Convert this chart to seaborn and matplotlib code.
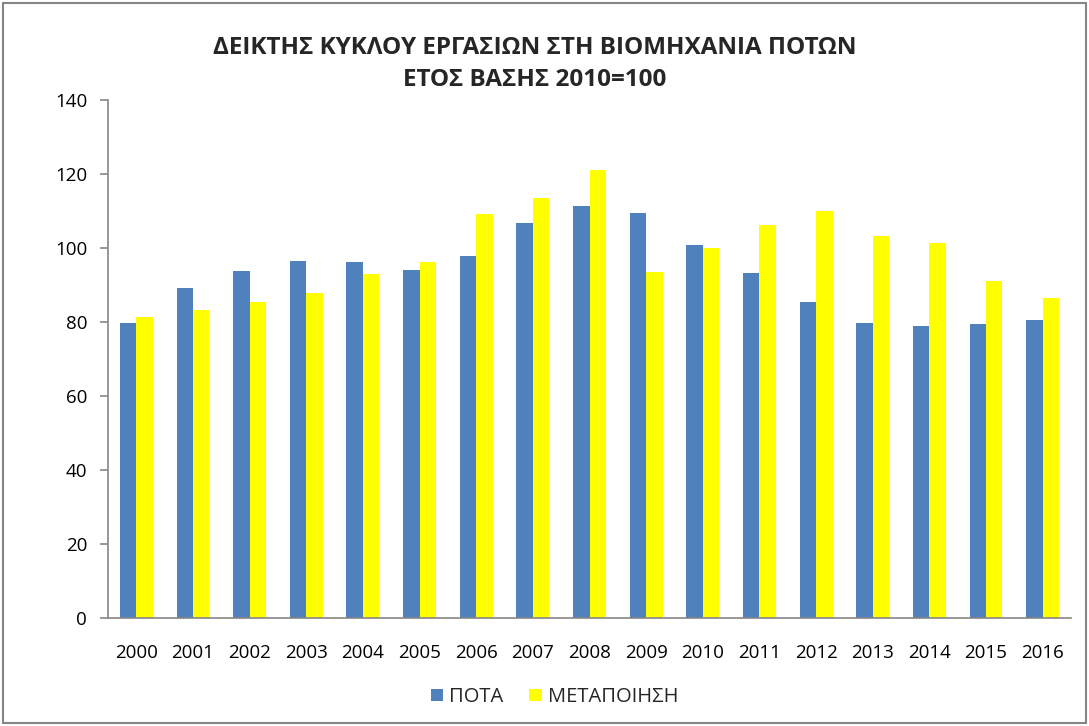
import matplotlib
matplotlib.use("Agg")
import matplotlib.pyplot as plt
import seaborn as sns
import pandas as pd
from matplotlib.patches import Rectangle

years = [str(y) for y in range(2000, 2017)]
pota = [79.7, 89.1, 93.8, 96.5, 96.1, 94.1, 97.9, 106.8, 111.4, 109.4,
        100.8, 93.2, 85.3, 79.7, 78.8, 79.5, 80.5]
metapoiisi = [81.4, 83.2, 85.5, 87.8, 92.9, 96.1, 109.1, 113.5, 121.1, 93.5,
              100.0, 106.1, 109.9, 103.2, 101.4, 91.1, 86.5]
series_names = ["ΠΟΤΑ", "ΜΕΤΑΠΟΙΗΣΗ"]
colors = ["#4F81BD", "#FFFF00"]
title = "ΔΕΙΚΤΗΣ ΚΥΚΛΟΥ ΕΡΓΑΣΙΩΝ ΣΤΗ ΒΙΟΜΗΧΑΝΙΑ ΠΟΤΩΝ\nΕΤΟΣ ΒΑΣΗΣ 2010=100"

df = pd.DataFrame({
    "year": years * 2,
    "value": pota + metapoiisi,
    "series": [series_names[0]] * len(years) + [series_names[1]] * len(years),
})

sns.set_theme(style="white")
plt.rcParams["font.family"] = ["Open Sans", "DejaVu Sans"]

fig = plt.figure(figsize=(10.89, 7.26), dpi=100)
ax = fig.add_axes([108 / 1089, 1 - 618 / 726, (1071 - 108) / 1089, (618 - 100) / 726])

sns.barplot(data=df, x="year", y="value", hue="series", palette=colors,
            width=0.58, saturation=1, linewidth=0, ax=ax, legend=True)

ax.set_ylim(0, 140)
ax.set_yticks(range(0, 141, 20))
ax.set_xlim(-0.5, len(years) - 0.5)
ax.set_xlabel("")
ax.set_ylabel("")
for s in ["top", "right"]:
    ax.spines[s].set_visible(False)
for s in ["left", "bottom"]:
    ax.spines[s].set_color("#868686")
    ax.spines[s].set_linewidth(1.2)
ax.tick_params(axis="y", which="both", left=True, length=6, width=1.2, color="#868686",
               labelsize=13.5, labelcolor="#000000", pad=9)
ax.tick_params(axis="x", bottom=False, labelsize=13.5, labelcolor="#000000", pad=13)

fig.text(0.5 - 10 / 1089, 1 - 64 / 726, title, ha="center", va="center", fontsize=17.5,
         fontweight="bold", linespacing=1.45)

handles, labels = ax.get_legend_handles_labels()
ax.legend_.remove()
fig.legend(handles, labels, loc="center", bbox_to_anchor=(0.5 + 10 / 1089, 1 - 697 / 726),
           ncol=2, frameon=False, fontsize=14.5, handlelength=0.6, handleheight=0.6,
           columnspacing=1.3, handletextpad=0.3)

fig.patches.append(Rectangle((3 / 1089, 3 / 726), 1 - 6 / 1089, 1 - 6 / 726,
                             transform=fig.transFigure, fill=False,
                             edgecolor="#868686", linewidth=1.5))

fig.savefig("out.png", dpi=100)
